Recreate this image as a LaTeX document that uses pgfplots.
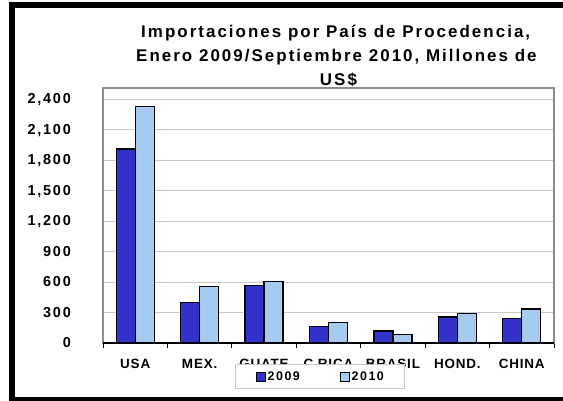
\documentclass[border=0pt]{standalone}
\usepackage{fontspec}
\setmainfont{Liberation Sans}
\usepackage{pgfplots}
\pgfplotsset{compat=1.18}
\newfontfamily\tickyf[LetterSpace=12]{Liberation Sans}
\newfontfamily\tickxf[LetterSpace=6]{Liberation Sans}
\newfontfamily\titlef[LetterSpace=12]{Liberation Sans}
\newfontfamily\legf[LetterSpace=12]{Liberation Sans}
\definecolor{c09}{HTML}{3333CC}
\definecolor{c10}{HTML}{A6CAF0}
\definecolor{gridc}{HTML}{C8C8C8}
\definecolor{boxc}{HTML}{8C8C8C}
\begin{document}
\begin{tikzpicture}[x=1bp,y=1bp]
\useasboundingbox (0,0) rectangle (563,400);
\clip (0,0) rectangle (563,400);
\fill[white] (0,0) rectangle (563,400);
\draw[line width=6bp] (12,0) rectangle (600,395);
\node[anchor=base west,inner sep=0pt,font=\titlef\bfseries\fontsize{17}{20}\selectfont] at (141,362.3) {Importaciones por País de Procedencia,};
\node[anchor=base west,inner sep=0pt,font=\titlef\bfseries\fontsize{17}{20}\selectfont] at (136,339) {Enero 2009/Septiembre 2010, Millones de};
\coordinate (SW) at (103,57);
\begin{axis}[
  at={(SW)}, anchor=south west, scale only axis,
  width=451bp, height=255bp,
  ybar=0pt, bar width=19bp,
  xmin=-0.5, xmax=6.5, ymin=0, ymax=2510,
  xtick={0,...,6},
  xticklabels={USA,MEX.,GUATE,C RICA,BRASIL,HOND.,CHINA},
  minor xtick={-0.5,0.5,...,6.5},
  ytick={0,300,...,2400},
  major tick length=0pt, minor tick length=5bp, tick align=outside,
  xtick pos=lower, ytick pos=left,
  every minor tick/.style={black, line width=0.8bp},
  ymajorgrids=true,
  grid style={gridc, line width=1bp},
  axis line style={boxc, line width=1.5bp},
  /pgf/number format/assume math mode=true,
  /pgf/number format/1000 sep={,},
  yticklabel style={anchor=base east, inner sep=0pt, xshift=-32bp, yshift=-4.7bp, font=\tickyf\bfseries\fontsize{14.5}{16}\selectfont},
  xticklabel style={anchor=base, inner sep=0pt, yshift=-25.3bp, font=\tickxf\bfseries\fontsize{13.5}{16}\selectfont},
  legend columns=2,
  legend style={at={(0.482,-0.131)}, anchor=center, draw=gridc, line width=1bp, fill=white,
    font=\legf\bfseries\fontsize{12.5}{14}\selectfont,
    inner xsep=20bp, inner ysep=6bp,
    nodes={inner sep=1bp},
    /tikz/every odd column/.style={column sep=1bp},
    /tikz/every even column/.style={column sep=39bp}},
  legend image code/.code={\draw[#1, line width=0.8bp] (0bp,-4.5bp) rectangle (9bp,4.5bp);},
  clip=false,
]
\addplot[fill=c09, draw=black, line width=1.3bp] coordinates {(0,1910) (1,396) (2,563) (3,163) (4,118) (5,256) (6,242)};
\addplot[fill=c10, draw=black, line width=1.3bp] coordinates {(0,2326) (1,553) (2,606) (3,203) (4,82) (5,288) (6,334)};
\draw[black, line width=1.2bp] (rel axis cs:0,0) -- (rel axis cs:1,0);
\legend{2009,2010}
\end{axis}
\node[anchor=base,inner sep=0pt,font=\titlef\bfseries\fontsize{17}{20}\selectfont] at (338.5,314.5) {US\$};
\end{tikzpicture}
\end{document}
